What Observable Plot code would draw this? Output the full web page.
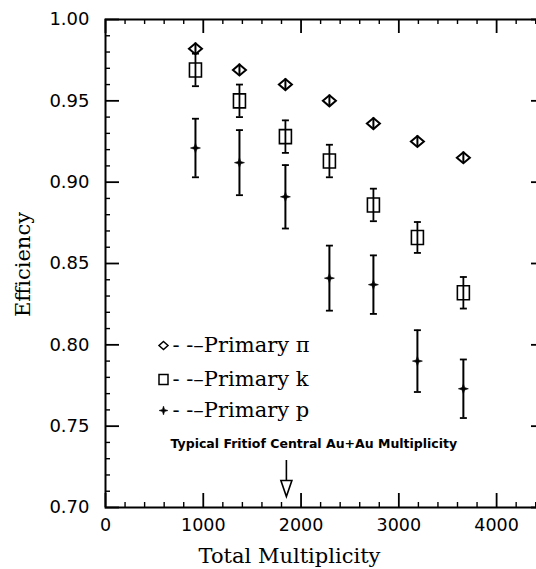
<!DOCTYPE html>
<html><head><meta charset="utf-8">
<script src="https://cdn.jsdelivr.net/npm/d3@7"></script>
<script src="https://cdn.jsdelivr.net/npm/@observablehq/plot@0.6"></script>
<style>
html,body{margin:0;padding:0;background:#fff;overflow:hidden}
#chart svg{max-width:none !important;width:545px !important;height:569px !important;display:block}
</style>
</head><body><div id="chart"></div>
<script>
// ---- data ----
const multiplicity = [920, 1370, 1840, 2290, 2740, 3190, 3660];
const effPi  = [0.982, 0.969, 0.960, 0.950, 0.936, 0.925, 0.915];
const errPi  = [0.0035, 0.0035, 0.0035, 0.0035, 0.0035, 0.0035, 0.0035];
const effK   = [0.969, 0.950, 0.928, 0.913, 0.886, 0.866, 0.832];
const errK   = [0.010, 0.010, 0.010, 0.010, 0.010, 0.0095, 0.0097];
const effP   = [0.921, 0.912, 0.891, 0.841, 0.837, 0.790, 0.773];
const errP   = [0.018, 0.020, 0.0195, 0.020, 0.018, 0.019, 0.018];
const xMajor = [0, 1000, 2000, 3000, 4000];
const xMinor = [200,400,600,800,1200,1400,1600,1800,2200,2400,2600,2800,3200,3400,3600,3800,4200,4400];
const yMajor = [0.70, 0.75, 0.80, 0.85, 0.90, 0.95, 1.00];
const yMinor = [0.71,0.72,0.73,0.74,0.76,0.77,0.78,0.79,0.81,0.82,0.83,0.84,0.86,0.87,0.88,0.89,0.91,0.92,0.93,0.94,0.96,0.97,0.98,0.99];
const legendLabels = ["- -\u2013Primary \u03c0", "- -\u2013Primary k", "- -\u2013Primary p"];
const annotationText = "Typical Fritiof Central Au+Au Multiplicity";
const typicalMultiplicity = [1850];

// ---- tables ----
const rows = multiplicity.map((x, i) => ({
  x, pi: effPi[i], epi: errPi[i], k: effK[i], ek: errK[i], p: effP[i], ep: errP[i]
}));

// ---- custom symbols ----
const diamondSym = {draw(c){c.moveTo(0,-5.5);c.lineTo(6.5,0);c.lineTo(0,5.5);c.lineTo(-6.5,0);c.closePath();}};
const diamondSmall = {draw(c){c.moveTo(0,-4);c.lineTo(4.5,0);c.lineTo(0,4);c.lineTo(-4.5,0);c.closePath();}};
const rectSym = {draw(c){c.rect(-6,-7,12,14);}};
const rectSmall = {draw(c){c.rect(-4.5,-5,9,10);}};
const starSym = {draw(c){const a=5,b=1.2;c.moveTo(0,-a);c.lineTo(b,-b);c.lineTo(a,0);c.lineTo(b,b);c.lineTo(0,a);c.lineTo(-b,b);c.lineTo(-a,0);c.lineTo(-b,-b);c.closePath();}};
const starSmall = {draw(c){const a=4.5,b=1.1;c.moveTo(0,-a);c.lineTo(b,-b);c.lineTo(a,0);c.lineTo(b,b);c.lineTo(0,a);c.lineTo(-b,b);c.lineTo(-a,0);c.lineTo(-b,-b);c.closePath();}};
const capSym = {draw(c){c.moveTo(-3.5,0);c.lineTo(3.5,0);}};
const triSym = {draw(c){c.moveTo(-5.5,-8);c.lineTo(5.5,-8);c.lineTo(0,8);c.closePath();}};

const PH = 488, PW = 440;
const tickOpts = {stroke: "black"};
const legendSyms = [
  {sym: diamondSmall, fill: "white", stroke: "black", sw: 1.5},
  {sym: rectSmall, fill: "white", stroke: "black", sw: 1.5},
  {sym: starSmall, fill: "black", stroke: "black", sw: 0.5}
];
const legendDy = [326, 360, 391];

const chart = Plot.plot({
  width: 545, height: 569,
  marginLeft: 105, marginRight: 0, marginTop: 19, marginBottom: 62,
  x: {domain: [0, 4500]},
  y: {domain: [0.70, 1.00]},
  style: {background: "white", color: "black"},
  marks: [
    Plot.frame({stroke: "black", strokeWidth: 2}),
    // ticks (inward)
    Plot.tickX(xMajor, {x: d => d, insetTop: PH - 14, strokeWidth: 1.8, ...tickOpts}),
    Plot.tickX(xMajor, {x: d => d, insetBottom: PH - 14, strokeWidth: 1.8, ...tickOpts}),
    Plot.tickX(xMinor, {x: d => d, insetTop: PH - 5, strokeWidth: 1.4, ...tickOpts}),
    Plot.tickX(xMinor, {x: d => d, insetBottom: PH - 5, strokeWidth: 1.4, ...tickOpts}),
    Plot.tickY(yMajor, {y: d => d, insetRight: PW - 14, strokeWidth: 1.8, ...tickOpts}),
    Plot.tickY(yMajor, {y: d => d, insetLeft: PW - 14, strokeWidth: 1.8, ...tickOpts}),
    Plot.tickY(yMinor, {y: d => d, insetRight: PW - 5, strokeWidth: 1.4, ...tickOpts}),
    Plot.tickY(yMinor, {y: d => d, insetLeft: PW - 5, strokeWidth: 1.4, ...tickOpts}),
    // axes labels
    Plot.axisX(xMajor, {anchor: "bottom", tickSize: 0, tickPadding: 11, fontSize: 17.5, fontFamily: "DejaVu Sans", label: null, tickFormat: d => String(d)}),
    Plot.axisY(yMajor, {anchor: "left", tickSize: 0, tickPadding: 16, fontSize: 18, fontFamily: "DejaVu Sans", label: null, tickFormat: d3.format(".2f")}),
    Plot.text(["Total Multiplicity"], {text: d => d, frameAnchor: "bottom-left", dx: 184, dy: 49, fontSize: 21, fontFamily: "DejaVu Serif", textAnchor: "middle", lineAnchor: "middle"}),
    Plot.text(["Efficiency"], {text: d => d, frameAnchor: "left", dx: -82, dy: 1, rotate: -90, fontSize: 21, fontFamily: "DejaVu Serif", textAnchor: "middle", lineAnchor: "middle"}),
    // pi: diamonds
    Plot.dot(rows, {x: "x", y: "pi", symbol: diamondSym, fill: "white", stroke: "black", strokeWidth: 2}),
    Plot.ruleX(rows, {x: "x", y1: d => d.pi - d.epi, y2: d => d.pi + d.epi, stroke: "black", strokeWidth: 2}),
    // k: rectangles with error bars
    Plot.dot(rows, {x: "x", y: "k", symbol: rectSym, fill: "white", stroke: "black", strokeWidth: 1.6}),
    Plot.ruleX(rows, {x: "x", y1: d => d.k - d.ek, y2: d => d.k + d.ek, stroke: "black", strokeWidth: 1.8}),
    Plot.dot(rows, {x: "x", y: d => d.k - d.ek, symbol: capSym, stroke: "black", strokeWidth: 1.8}),
    Plot.dot(rows, {x: "x", y: d => d.k + d.ek, symbol: capSym, stroke: "black", strokeWidth: 1.8}),
    // p: stars with error bars
    Plot.ruleX(rows, {x: "x", y1: d => d.p - d.ep, y2: d => d.p + d.ep, stroke: "black", strokeWidth: 2}),
    Plot.dot(rows, {x: "x", y: d => d.p - d.ep, symbol: capSym, stroke: "black", strokeWidth: 1.8}),
    Plot.dot(rows, {x: "x", y: d => d.p + d.ep, symbol: capSym, stroke: "black", strokeWidth: 1.8}),
    Plot.dot(rows, {x: "x", y: "p", symbol: starSym, fill: "black", stroke: "black", strokeWidth: 0.6}),
    // legend
    ...legendLabels.flatMap((lab, i) => [
      Plot.dot([lab], {frameAnchor: "top-left", dx: 58, dy: legendDy[i], symbol: legendSyms[i].sym, fill: legendSyms[i].fill, stroke: legendSyms[i].stroke, strokeWidth: legendSyms[i].sw}),
      Plot.text([lab], {text: d => d, frameAnchor: "top-left", dx: 67, dy: legendDy[i], fontSize: 21, fontFamily: "DejaVu Serif", textAnchor: "start", lineAnchor: "middle"})
    ]),
    // annotation
    Plot.text([annotationText], {text: d => d, frameAnchor: "bottom-left", dx: 65, dy: -64, fontSize: 12.5, fontWeight: "bold", fontFamily: "DejaVu Sans", textAnchor: "start", lineAnchor: "middle"}),
    Plot.ruleX(typicalMultiplicity, {x: d => d, insetTop: 441, insetBottom: 27, stroke: "black", strokeWidth: 1.6}),
    Plot.dot(typicalMultiplicity, {x: d => d, frameAnchor: "bottom", dy: -19, symbol: triSym, fill: "white", stroke: "black", strokeWidth: 1.6})
  ]
});
document.getElementById("chart").appendChild(chart);
</script>
</body></html>
